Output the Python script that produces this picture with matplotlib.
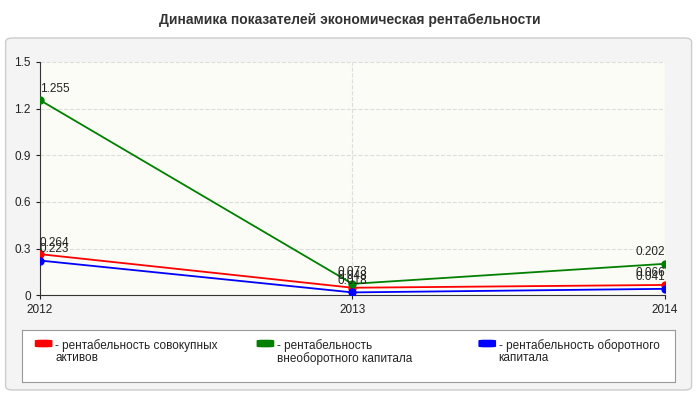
import matplotlib
matplotlib.use("Agg")
import matplotlib.pyplot as plt
from matplotlib.patches import FancyBboxPatch

years = ["2012", "2013", "2014"]
assets = [0.264, 0.048, 0.066]
noncur = [1.255, 0.073, 0.202]
current = [0.223, 0.018, 0.041]
names = ["- рентабельность совокупных\nактивов", "- рентабельность\nвнеоборотного капитала", "- рентабельность оборотного\nкапитала"]
colors = ["#ff0000", "#008000", "#0000ff"]

plt.rcParams['font.family'] = ['Liberation Sans', 'DejaVu Sans']
fig = plt.figure(figsize=(7, 4), dpi=100)
fig.patch.set_facecolor("white")
fig.patches.append(FancyBboxPatch((0.008, 0.025), 0.98, 0.88, boxstyle="round,pad=0,rounding_size=0.01",
                                  transform=fig.transFigure, facecolor="#f4f4f4", edgecolor="#cccccc", lw=1, zorder=-10))
fig.text(0.5, 0.95, "Динамика показателей экономическая рентабельности", ha="center", va="center",
         fontsize=10, fontweight="bold", color="#333333")
ax = fig.add_axes([0.057, 0.262, 0.893, 0.583])
ax.set_facecolor("#fbfcf5")
x = range(len(years))
for s, c in zip([assets, noncur, current], colors):
    ax.plot(x, s, color=c, lw=1.3, marker="o", ms=5, zorder=3)
    for xi, v in zip(x, s):
        ax.annotate(f"{v:g}", (xi, v), xytext=(0, 4), textcoords="offset points", ha="left" if xi == 0 else ("center" if xi == 1 else "right"),
                    va="bottom", fontsize=8.5, color="#222222", zorder=4)
ax.set_xlim(0, 2)
ax.set_ylim(0, 1.5)
ax.set_xticks(list(x))
ax.set_xticklabels(years)
ax.set_yticks([0, 0.3, 0.6, 0.9, 1.2, 1.5])
ax.set_yticklabels(["0", "0.3", "0.6", "0.9", "1.2", "1.5"])
ax.grid(True, color="#dddddd", ls="--", lw=0.8)
for sp in ["top", "right"]:
    ax.spines[sp].set_visible(False)
ax.spines["left"].set_color("#333333")
ax.spines["bottom"].set_color("#333333")
ax.tick_params(labelsize=8.5, colors="#222222", length=3)

lax = fig.add_axes([0.032, 0.045, 0.932, 0.13])
lax.set_xlim(0, 1); lax.set_ylim(0, 1)
lax.set_xticks([]); lax.set_yticks([])
lax.set_facecolor("white")
for sp in lax.spines.values():
    sp.set_color("#999999")
for i, (n, c) in enumerate(zip(names, colors)):
    x0 = 0.02 + i * 0.34
    lax.add_patch(FancyBboxPatch((x0, 0.68), 0.025, 0.12, boxstyle="round,pad=0,rounding_size=0.01", facecolor=c, edgecolor=c))
    lax.text(x0 + 0.03, 0.82, n, va="top", ha="left", fontsize=8.5, color="#222222", linespacing=0.95)
fig.savefig("out.png", dpi=100)
